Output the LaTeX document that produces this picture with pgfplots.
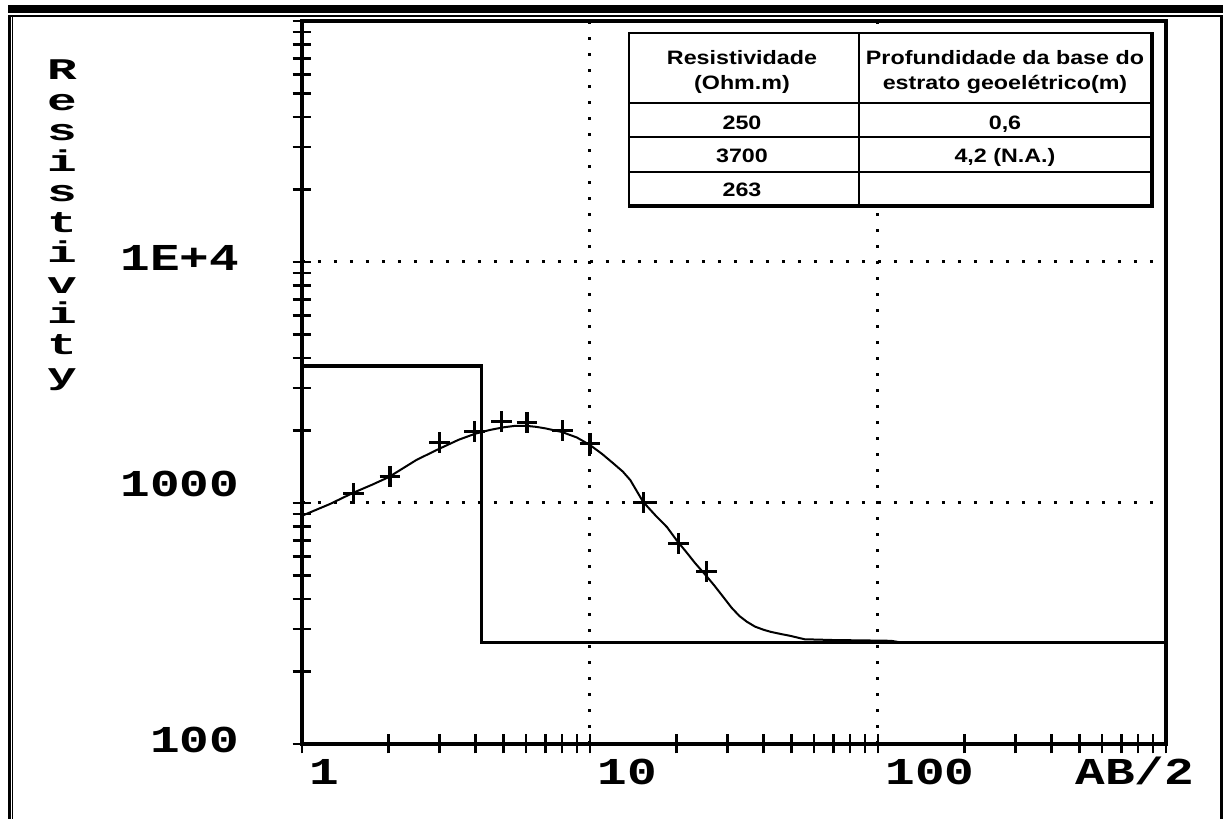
\documentclass[border=0pt]{standalone}
\usepackage{fontspec}
\usepackage{graphicx}
\usepackage{pgfplots}
\pgfplotsset{compat=1.18}
\newfontfamily\monofont{Liberation Mono}
\newfontfamily\tabfont{Liberation Sans}
\newcommand{\bmono}[1]{\scalebox{1.3}[1]{\monofont\bfseries\fontsize{19}{19}\selectfont #1}}
\newcommand{\tb}[1]{\scalebox{1.2}[1]{\tabfont\bfseries\fontsize{9.7}{11}\selectfont #1}}
\begin{document}
\begin{tikzpicture}
\path[use as bounding box] (-151pt,-37.5pt) rectangle (460.5pt,372pt);
\begin{axis}[
  at={(0pt,0pt)}, anchor=south west,
  scale only axis, width=432pt, height=361.5pt,
  xmode=log, ymode=log,
  xmin=1, xmax=1000, ymin=100, ymax=100000,
  axis line style={line width=1.7pt},
  tick align=center,
  tick pos=left,
  xtick={1,10,100,1000},
  xticklabels={\bmono{1},\bmono{10},\bmono{100},{}},
  ytick={100,1000,10000,100000},
  yticklabels={\bmono{100},\raisebox{7.5pt}{\bmono{1000}},\bmono{1E+4},{}},
  minor xtick={2,3,4,5,6,7,8,9,20,30,40,50,60,70,80,90,200,300,400,500,600,700,800,900},
  minor ytick={200,300,400,500,600,700,800,900,2000,3000,4000,5000,6000,7000,8000,9000,20000,30000,40000,50000,60000,70000,80000,90000},
  major tick length=9.5pt, minor tick length=9.5pt,
  every tick/.style={black, line width=1.3pt},
  grid=major,
  major grid style={black, line width=1.5pt, dash pattern=on 1.5pt off 6.5pt, line cap=butt},
  xticklabel style={anchor=base west, inner sep=0pt, xshift=3.5pt, yshift=-15.5pt},
  yticklabel style={anchor=base east, inner sep=0pt, xshift=-26.5pt, yshift=-4.5pt},
]
\addplot[black, line width=1.7pt, line join=miter] coordinates {(1,3700) (4.2,3700) (4.2,263) (1000,263)};
\addplot[black, line width=1pt] coordinates {
(1,885) (1.25,990) (1.5,1100) (1.75,1190) (2,1280) (2.5,1510) (3,1680) (3.5,1830)
(4,1940) (4.5,2010) (5,2060) (5.5,2090) (6,2090) (6.5,2070) (7,2040) (8,1970)
(9,1870) (10,1740) (11,1600) (12,1466) (13,1350) (13.8,1245) (15.3,1010) (17,880)
(18.5,795) (20,700) (21.5,630) (23.2,562) (25.5,494) (27,455) (29,408) (31,368)
(33,340) (35,322) (37.4,307) (40,298) (42.4,292) (46,286) (49.6,281) (55.6,272)
(70,270) (90,269) (111,268) (120,264)};
\addplot[black, only marks, mark=+, mark size=5.2pt, mark options={line width=1.6pt}] coordinates {
(1.51,1097) (2.02,1286) (3.01,1778) (3.98,1976) (4.94,2174) (6.04,2154)
(8.05,1995) (10,1769) (15.3,1003) (20.3,680) (25.4,519)};
\end{axis}
\begin{scope}[shift={(-151pt,372pt)}, x=0.5pt, y=-0.5pt]
  % outer frame
  \fill (8,5) rectangle (1223,13);
  \fill (8,15) rectangle (1223,17);
  \fill (8,15) rectangle (11,819);
  \fill (12,17) rectangle (13.5,819);
  \fill (1220,15) rectangle (1222.5,819);
  % y label (stacked letters)
  \node[anchor=base, inner sep=0pt] at (62,80) {\scalebox{1.65}[1]{\parbox[t]{16pt}{\centering\monofont\bfseries\fontsize{15}{15.25}\selectfont\lineskiplimit=-30pt
    R\\e\\s\\i\\s\\t\\i\\v\\i\\t\\y}}};
  \node[anchor=base west, inner sep=0pt] at (1075,785) {\bmono{AB/2}};
  % table
  \fill[white] (628,32) rectangle (1154,208.5);
  \fill (628,32) rectangle (1152,34.5);
  \fill (628,32) rectangle (630.5,208);
  \fill (1149.5,32) rectangle (1154,208.5);
  \fill (628,204.5) rectangle (1154,208.5);
  \fill (858,32) rectangle (860,206);
  \fill (628,102) rectangle (1152,104);
  \fill (628,136.5) rectangle (1152,138.5);
  \fill (628,171) rectangle (1152,173);
  \node[anchor=base, inner sep=0pt] at (742,65) {\tb{Resistividade}};
  \node[anchor=base, inner sep=0pt] at (742,90) {\tb{(Ohm.m)}};
  \node[anchor=base, inner sep=0pt] at (1005,65) {\tb{Profundidade da base do}};
  \node[anchor=base, inner sep=0pt] at (1005,90) {\tb{estrato geoelétrico(m)}};
  \node[anchor=base, inner sep=0pt] at (742,130) {\tb{250}};
  \node[anchor=base, inner sep=0pt] at (1005,130) {\tb{0,6}};
  \node[anchor=base, inner sep=0pt] at (742,163) {\tb{3700}};
  \node[anchor=base, inner sep=0pt] at (1005,163) {\tb{4,2 (N.A.)}};
  \node[anchor=base, inner sep=0pt] at (742,197) {\tb{263}};
\end{scope}
\end{tikzpicture}
\end{document}
